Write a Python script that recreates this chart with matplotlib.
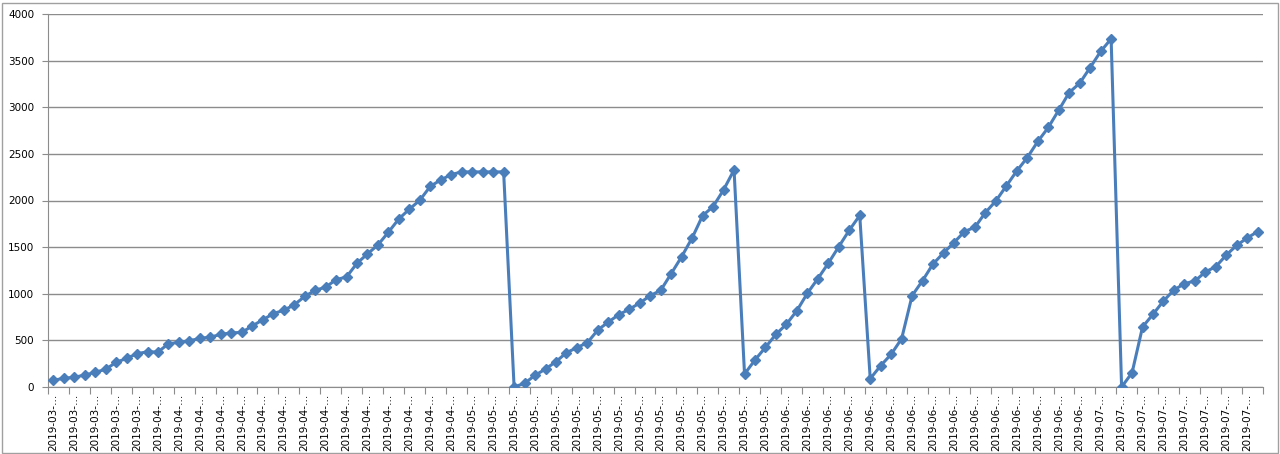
import matplotlib
matplotlib.use("Agg")
import matplotlib.pyplot as plt
from matplotlib.patches import Rectangle
import numpy as np

# daily values (116 days, late March to mid July 2019)
values = [72, 93, 104, 128, 157, 190, 264, 307, 357, 378,
          375, 464, 478, 496, 521, 535, 564, 581, 585, 655,
          720, 786, 823, 880, 971, 1037, 1070, 1151, 1180, 1327,
          1427, 1524, 1660, 1803, 1907, 2003, 2152, 2221, 2278, 2307,
          2307, 2307, 2307, 2307, 0, 40, 125, 193, 272, 368,
          422, 476, 612, 697, 776, 834, 901, 980, 1037, 1216,
          1398, 1599, 1838, 1935, 2114, 2328, 139, 290, 426, 565,
          673, 819, 1005, 1162, 1327, 1505, 1681, 1840, 89, 229,
          351, 518, 980, 1141, 1320, 1438, 1549, 1667, 1714, 1871,
          1996, 2157, 2318, 2461, 2633, 2783, 2969, 3158, 3258, 3426,
          3598, 3734, 0, 153, 644, 780, 923, 1041, 1108, 1137,
          1234, 1291, 1416, 1520, 1599, 1667]

# every second category gets a (truncated) date label
tick_labels = (["2019-03-\u2026"] * 5 + ["2019-04-\u2026"] * 15 +
               ["2019-05-\u2026"] * 15 + ["2019-06-\u2026"] * 15 +
               ["2019-07-\u2026"] * 8)

y_ticks = [0, 500, 1000, 1500, 2000, 2500, 3000, 3500, 4000]

def main():
    fig = plt.figure(figsize=(12.8, 4.54), dpi=100, facecolor='w')
    ax = fig.add_axes([48 / 1280, 1 - 387 / 454, 1215 / 1280, 373 / 454])

    x = np.arange(len(values))
    ax.plot(x, values, color='#4A7EBB', linewidth=2.2, marker='D',
            markersize=5.5, markerfacecolor='#4A7EBB', markeredgecolor='#4A7EBB',
            zorder=3)

    ax.set_xlim(-0.5, len(values) - 0.5)
    ax.set_ylim(0, 4000)

    # y axis with grid lines
    ax.set_yticks(y_ticks)
    ax.set_yticklabels([str(v) for v in y_ticks], fontsize=7.5)
    ax.yaxis.grid(True, color='#8c8c8c', linewidth=1.0)
    ax.set_axisbelow(True)
    ax.tick_params(axis='y', length=4, color='#8c8c8c', pad=6)

    # x axis: tick marks between every 2 categories, labels on categories
    ax.set_xticks(np.arange(-0.5, len(values), 2))
    ax.set_xticklabels([])
    ax.tick_params(axis='x', which='major', length=5, color='#8c8c8c')
    ax.set_xticks(np.arange(0, len(values), 2), minor=True)
    ax.set_xticklabels(tick_labels, minor=True, rotation=90, fontsize=7.5)
    ax.tick_params(axis='x', which='minor', length=0, pad=5)

    for side in ['top', 'right']:
        ax.spines[side].set_visible(False)
    for side in ['left', 'bottom']:
        ax.spines[side].set_color('#8c8c8c')

    # chart area border
    fig.patches.append(Rectangle((1.5 / 1280, 1.5 / 454), 1276 / 1280, 450 / 454,
                                 transform=fig.transFigure, fill=False,
                                 edgecolor='#a0a0a0', linewidth=1.0))

    plt.savefig('out.png', dpi=100)

if __name__ == '__main__':
    main()
